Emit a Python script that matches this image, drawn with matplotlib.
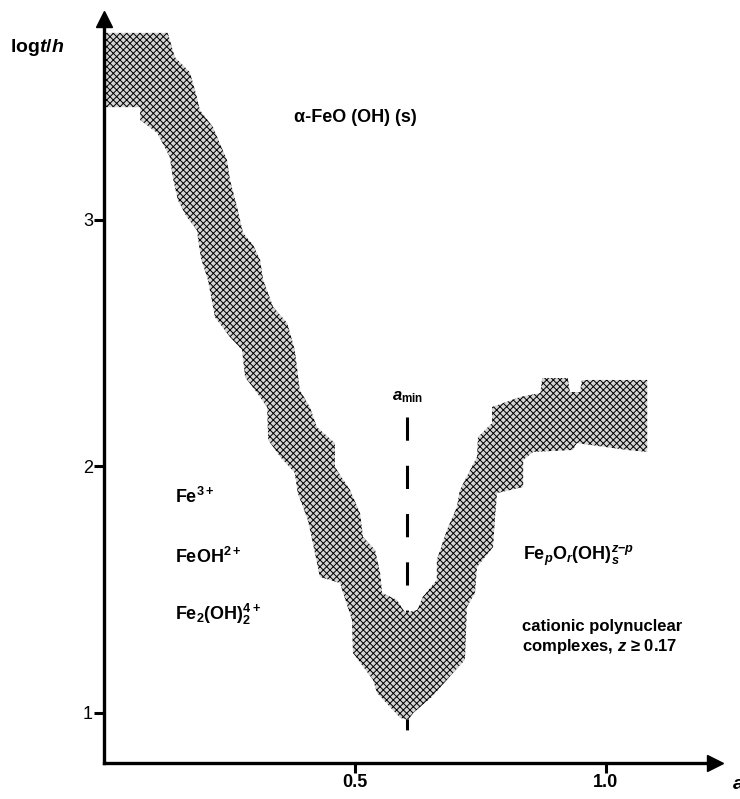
import numpy as np
import matplotlib
matplotlib.use('Agg')
import matplotlib.pyplot as plt

plt.rcParams['font.family'] = ['Liberation Sans', 'DejaVu Sans']
plt.rcParams['mathtext.fontset'] = 'custom'
plt.rcParams['mathtext.rm'] = 'Liberation Sans:bold'
plt.rcParams['mathtext.it'] = 'Liberation Sans:italic:bold'
plt.rcParams['mathtext.bf'] = 'Liberation Sans:bold'
plt.rcParams['hatch.linewidth'] = 0.7

# upper edge of the shaded band (a, log t/h), left to right
upper_a = [0.0, 0.127, 0.141, 0.171, 0.185, 0.191, 0.217, 0.245, 0.251, 0.265,
           0.277, 0.297, 0.311, 0.317, 0.337, 0.365, 0.380, 0.390, 0.410, 0.424,
           0.460, 0.460, 0.490, 0.510, 0.516, 0.540, 0.550, 0.554, 0.584, 0.600,
           0.624, 0.635, 0.663, 0.663, 0.683, 0.703, 0.709, 0.743, 0.745, 0.773,
           0.773, 0.829, 0.869, 0.873, 0.924, 0.928, 0.948, 0.952, 1.082, 1.082]
upper_t = [3.759, 3.759, 3.661, 3.600, 3.499, 3.446, 3.377, 3.243, 3.162, 3.053,
           2.947, 2.899, 2.838, 2.757, 2.647, 2.582, 2.473, 2.310, 2.241, 2.160,
           2.095, 1.998, 1.905, 1.811, 1.714, 1.661, 1.568, 1.487, 1.458, 1.406,
           1.418, 1.471, 1.540, 1.621, 1.742, 1.836, 1.905, 2.039, 2.120, 2.176,
           2.241, 2.282, 2.298, 2.359, 2.359, 2.302, 2.302, 2.351, 2.351, 2.059]

# lower edge of the band, right to left
lower_a = [1.042, 0.942, 0.934, 0.855, 0.835, 0.835, 0.783, 0.779, 0.775, 0.743,
           0.739, 0.723, 0.719, 0.695, 0.653, 0.616, 0.606, 0.590, 0.544, 0.536,
           0.496, 0.494, 0.470, 0.430, 0.416, 0.406, 0.386, 0.380, 0.351, 0.327,
           0.325, 0.305, 0.281, 0.275, 0.251, 0.221, 0.207, 0.193, 0.185, 0.165,
           0.147, 0.137, 0.131, 0.106, 0.072, 0.072, 0.0]
lower_t = [2.067, 2.095, 2.067, 2.059, 2.026, 1.917, 1.892, 1.795, 1.673, 1.592,
           1.487, 1.430, 1.215, 1.162, 1.065, 1.000, 0.972, 0.980, 1.081, 1.134,
           1.243, 1.377, 1.527, 1.552, 1.690, 1.783, 1.892, 1.974, 2.039, 2.108,
           2.241, 2.298, 2.363, 2.473, 2.525, 2.606, 2.757, 2.846, 2.959, 3.012,
           3.081, 3.174, 3.256, 3.353, 3.406, 3.458, 3.458]

a_min = 0.604
a_min_range = [2.201, 0.882]

xticks = [0.5, 1.0]
xtick_labels = ['0.5', '1.0']
yticks = [1, 2, 3]
ytick_labels = ['1', '2', '3']

W, H = 740, 799
fig = plt.figure(figsize=(W / 100, H / 100), dpi=100)
ax = fig.add_axes([104 / W, 36 / H, (715 - 104) / W, (763 - 19) / H])
ax.set_xlim(0, (715 - 104) / 502)
ax.set_ylim(0.797, (959.5 - 19) / 246.5)

for s in ['top', 'right']:
    ax.spines[s].set_visible(False)
for s in ['left', 'bottom']:
    ax.spines[s].set_linewidth(2.4)

# arrow heads
ax.plot(1, 0, '>k', ms=11, transform=ax.transAxes, clip_on=False)
ax.plot(0, 1, '^k', ms=11, transform=ax.transAxes, clip_on=False)

ax.set_xticks(xticks, xtick_labels, fontsize=13, fontweight='bold')
ax.set_yticks(yticks, ytick_labels, fontsize=13)
ax.tick_params(direction='out', length=7, width=2.2, pad=1)

# stippled band
ax.fill(upper_a + lower_a, upper_t + lower_t, facecolor='#d4d4d4',
        edgecolor='black', hatch='xxxxx', linewidth=0, zorder=2)

# a_min marker
ax.plot([a_min, a_min], a_min_range, color='black', lw=2.2,
        linestyle=(0, (7.6, 8.2)), zorder=1)
ax.text(a_min, 2.28, r'$a_{\mathrm{min}}$', fontsize=12, ha='center', va='center')

ax.text(-0.187, 3.70, r'log$t/h$', fontsize=14, fontweight='bold',
        ha='left', va='center', clip_on=False)
ax.text(1.250, 0.708, r'$a$', fontsize=14, ha='left', va='center', clip_on=False)

ax.text(0.378, 3.414, 'α-FeO (OH) (s)', fontsize=13, fontweight='bold', va='center')
ax.text(0.141, 1.876, r'Fe$^{3+}$', fontsize=13, fontweight='bold', va='center')
ax.text(0.141, 1.633, r'FeOH$^{2+}$', fontsize=13, fontweight='bold', va='center')
ax.text(0.141, 1.398, r'Fe$_2$(OH)$_2^{4+}$', fontsize=13, fontweight='bold', va='center')
ax.text(0.835, 1.637, r'Fe$_p$O$_r$(OH)$_s^{z\mathrm{-}p}$', fontsize=13,
        fontweight='bold', va='center')
ax.text(0.833, 1.351, 'cationic polynuclear', fontsize=12, fontweight='bold', va='center')
ax.text(0.833, 1.270, r'complexes, $z$ ≥ 0.17', fontsize=12, fontweight='bold', va='center')

fig.savefig('out.png', dpi=100)
